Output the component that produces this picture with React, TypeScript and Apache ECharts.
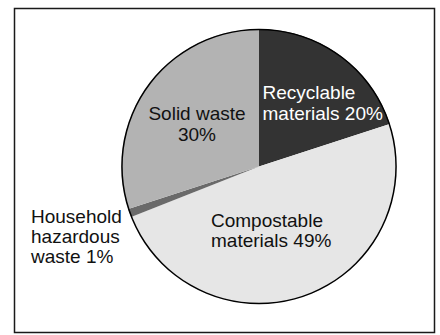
import React, { useEffect, useRef } from "react";
import * as echarts from "echarts";

const categories = ["Recyclable materials", "Compostable materials", "Household hazardous waste", "Solid waste"];
const labelTexts = ["Recyclable\nmaterials", "Compostable\nmaterials", "Household\nhazardous\nwaste", "Solid waste\n"];
const values = [20, 49, 1, 30];
const colors = ["#333333", "#e6e6e6", "#6a6a6a", "#b3b3b3"];
const labelColors = ["#ffffff", "#111111", "#111111", "#111111"];

// label placement (page pixels): [x, y, align, lineHeight]
const labelPlaces: [number, number, string, number][] = [
  [262.5, 103, "left", 20.5],
  [211, 230.5, "left", 20],
  [31, 236, "left", 20],
  [197, 124, "center", 21.5],
];

export default function App() {
  const ref = useRef<HTMLDivElement>(null);
  useEffect(() => {
    if (!ref.current) return;
    const chart = echarts.init(ref.current, null, { renderer: "svg" });
    const center = [259, 166.5];
    const R = 137.5;
    chart.setOption({
      animation: false,
      backgroundColor: "#ffffff",
      graphic: [
        {
          type: "rect",
          shape: { x: 14.5, y: 8.5, width: 420, height: 324 },
          style: { fill: "none", stroke: "#1a1a1a", lineWidth: 1.5 },
          silent: true,
        },
      ],
      series: [
        {
          type: "pie",
          center,
          radius: [0, R],
          startAngle: 90,
          clockwise: true,
          silent: true,
          itemStyle: { borderWidth: 0 },
          label: {
            show: true,
            position: "inside",
            fontFamily: "Liberation Sans",
            fontSize: 19,
            lineHeight: 20,
            formatter: (p: any) => {
              const i = p.dataIndex;
              const t = labelTexts[i];
              if (t.endsWith("\n")) return t + values[i] + "%";
              return t + " " + values[i] + "%";
            },
          },
          labelLine: { show: false },
          labelLayout: (p: any) => {
            const lp = labelPlaces[p.dataIndex];
            return { x: lp[0], y: lp[1], align: lp[2], verticalAlign: "middle" };
          },
          data: categories.map((name, i) => ({
            name,
            value: values[i],
            itemStyle: { color: colors[i] },
            label: {
              color: labelColors[i],
              align: labelPlaces[i][2],
              lineHeight: labelPlaces[i][3],
            },
          })),
        },
        {
          type: "pie",
          center,
          radius: [R - 1.2, R + 0.3],
          silent: true,
          label: { show: false },
          labelLine: { show: false },
          itemStyle: { color: "#000000", borderWidth: 0 },
          data: [{ name: "outline", value: 1 }],
        },
      ],
    });
    return () => chart.dispose();
  }, []);
  return (
    <div
      ref={ref}
      style={{ position: "absolute", left: 0, top: 0, width: 440, height: 335 }}
    />
  );
}
